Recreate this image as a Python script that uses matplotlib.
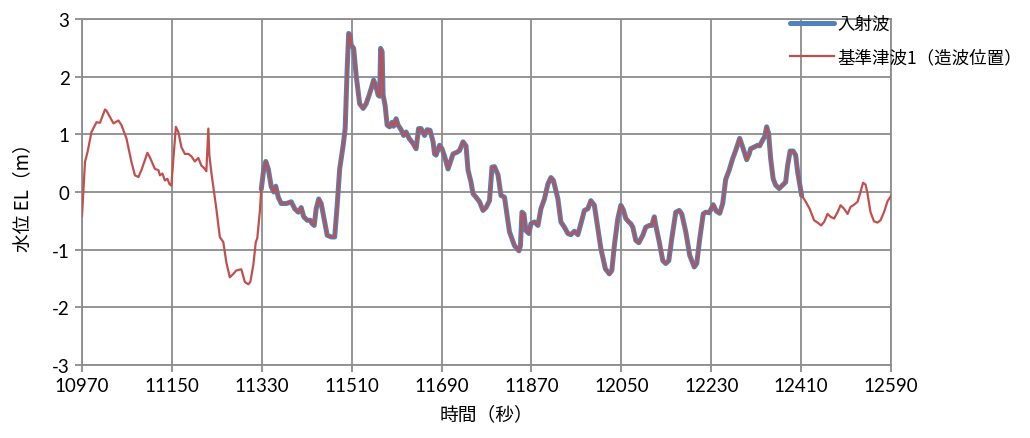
import matplotlib
matplotlib.use("Agg")
import matplotlib.pyplot as plt
import numpy as np

plt.rcParams['font.family'] = ['Lato', 'Noto Sans CJK JP', 'DejaVu Sans']
plt.rcParams['axes.unicode_minus'] = False

# ---- data ----
time_s = [10970, 10976, 10981, 10989, 10999, 11006, 11016, 11019, 11033, 11043,
          11049, 11059, 11069, 11076, 11083, 11089, 11101, 11106, 11116, 11123,
          11126, 11131, 11136, 11141, 11145, 11149, 11153, 11158, 11163, 11169,
          11176, 11183, 11189, 11196, 11203, 11209, 11214, 11219, 11223, 11225,
          11229, 11239, 11246, 11253, 11259, 11266, 11273, 11279, 11289, 11296,
          11303, 11307, 11313, 11318, 11321, 11326, 11329, 11334, 11338, 11343,
          11349, 11354, 11358, 11363, 11369, 11379, 11389, 11396, 11403, 11409,
          11414, 11421, 11427, 11431, 11435, 11439, 11444, 11449, 11456, 11461,
          11469, 11476, 11481, 11486, 11493, 11497, 11501, 11504, 11507, 11509,
          11514, 11519, 11526, 11533, 11539, 11545, 11549, 11554, 11558, 11563,
          11566, 11568, 11571, 11573, 11577, 11581, 11586, 11591, 11594, 11599,
          11603, 11609, 11614, 11619, 11625, 11633, 11639, 11644, 11649, 11656,
          11661, 11667, 11673, 11676, 11679, 11686, 11691, 11696, 11703, 11708,
          11713, 11721, 11726, 11733, 11739, 11743, 11749, 11753, 11759, 11766,
          11773, 11779, 11786, 11791, 11796, 11803, 11809, 11816, 11826, 11836,
          11845, 11848, 11851, 11855, 11859, 11865, 11869, 11876, 11883, 11889,
          11896, 11903, 11909, 11914, 11923, 11929, 11936, 11943, 11949, 11956,
          11963, 11969, 11976, 11983, 11989, 11996, 12003, 12009, 12018, 12026,
          12031, 12036, 12043, 12049, 12054, 12059, 12065, 12069, 12073, 12079,
          12085, 12093, 12099, 12106, 12111, 12116, 12119, 12126, 12133, 12139,
          12145, 12151, 12159, 12166, 12171, 12179, 12187, 12196, 12201, 12207,
          12214, 12219, 12226, 12234, 12240, 12247, 12253, 12259, 12266, 12273,
          12279, 12287, 12293, 12301, 12306, 12309, 12316, 12323, 12327, 12333,
          12337, 12341, 12345, 12349, 12354, 12359, 12366, 12373, 12379, 12383,
          12388, 12394, 12399, 12403, 12408, 12411, 12418, 12427, 12436, 12443,
          12450, 12456, 12463, 12469, 12476, 12483, 12489, 12496, 12503, 12509,
          12516, 12523, 12528, 12534, 12539, 12543, 12549, 12556, 12563, 12569,
          12576, 12583, 12590]

water_level = [-0.41, 0.52, 0.69, 1.04, 1.21, 1.20, 1.43, 1.41, 1.19, 1.24,
               1.16, 0.93, 0.52, 0.29, 0.26, 0.38, 0.68, 0.60, 0.40, 0.38,
               0.29, 0.32, 0.20, 0.23, 0.14, 0.11, 0.58, 1.13, 1.04, 0.78,
               0.66, 0.66, 0.62, 0.53, 0.59, 0.46, 0.42, 0.36, 1.10, 0.64,
               0.34, -0.29, -0.78, -0.87, -1.22, -1.48, -1.42, -1.36, -1.34, -1.56,
               -1.60, -1.56, -1.27, -0.87, -0.80, -0.35, 0.05, 0.40, 0.53, 0.40,
               0.09, 0.00, 0.10, -0.09, -0.20, -0.20, -0.17, -0.29, -0.35, -0.27,
               -0.43, -0.49, -0.49, -0.55, -0.58, -0.29, -0.12, -0.20, -0.52, -0.75,
               -0.78, -0.78, -0.23, 0.40, 0.81, 1.10, 2.14, 2.75, 2.72, 2.55,
               2.49, 2.02, 1.53, 1.45, 1.53, 1.68, 1.79, 1.94, 1.85, 1.68,
               1.66, 2.49, 2.43, 1.68, 1.50, 1.16, 1.13, 1.21, 1.14, 1.27,
               1.16, 1.08, 0.98, 1.04, 0.93, 0.84, 0.75, 1.10, 1.10, 0.98,
               1.08, 1.07, 0.87, 0.66, 0.64, 0.81, 0.75, 0.62, 0.40, 0.53,
               0.66, 0.69, 0.72, 0.87, 0.80, 0.38, 0.17, -0.03, -0.09, -0.17,
               -0.32, -0.27, -0.15, 0.43, 0.44, 0.30, -0.06, -0.09, -0.69, -0.93,
               -1.02, -0.93, -0.35, -0.38, -0.67, -0.72, -0.55, -0.52, -0.58, -0.29,
               -0.12, 0.14, 0.25, 0.20, -0.12, -0.52, -0.61, -0.72, -0.74, -0.68,
               -0.74, -0.55, -0.32, -0.29, -0.15, -0.23, -0.64, -0.98, -1.33, -1.42,
               -1.36, -0.93, -0.46, -0.23, -0.31, -0.46, -0.52, -0.55, -0.61, -0.84,
               -0.88, -0.75, -0.61, -0.58, -0.58, -0.43, -0.58, -0.87, -1.19, -1.24,
               -1.19, -0.81, -0.35, -0.32, -0.38, -0.69, -1.10, -1.30, -1.24, -0.81,
               -0.38, -0.35, -0.36, -0.22, -0.33, -0.37, -0.20, 0.22, 0.38, 0.58,
               0.72, 0.93, 0.78, 0.56, 0.66, 0.75, 0.78, 0.81, 0.80, 0.90,
               0.96, 1.13, 1.01, 0.58, 0.23, 0.12, 0.06, 0.12, 0.17, 0.46,
               0.71, 0.71, 0.64, 0.35, 0.09, -0.06, -0.15, -0.29, -0.49, -0.53,
               -0.58, -0.52, -0.38, -0.43, -0.46, -0.35, -0.23, -0.29, -0.38, -0.26,
               -0.22, -0.17, -0.03, 0.16, 0.13, -0.03, -0.35, -0.51, -0.53, -0.49,
               -0.35, -0.16, -0.07]

# incident wave (入射波) covers only part of the record
incident_start = 11329
incident_end = 12411

x_ticks = [10970, 11150, 11330, 11510, 11690, 11870, 12050, 12230, 12410, 12590]
y_ticks = [-3, -2, -1, 0, 1, 2, 3]

series_labels = ['入射波', '基準津波1（造波位置）']
x_label = '時間（秒）'
y_label = '水位 EL（m）'

# ---- figure ----
fig = plt.figure(figsize=(10.30, 4.39), dpi=100)
ax = fig.add_axes([82 / 1030, 73 / 439, 809 / 1030, 346 / 439])

t = np.array(time_s)
v = np.array(water_level)
mask = (t >= incident_start) & (t <= incident_end)

grid_c = '#8c8c8c'
ax.plot(t[mask], v[mask], color='#4F81BD', lw=3.6, solid_capstyle='round',
        solid_joinstyle='round', label=series_labels[0], zorder=3)
ax.plot(t, v, color='#C0504D', lw=1.6, solid_joinstyle='round',
        label=series_labels[1], zorder=4)

ax.set_xlim(x_ticks[0], x_ticks[-1])
ax.set_ylim(y_ticks[0], y_ticks[-1])
ax.set_xticks(x_ticks)
ax.set_yticks(y_ticks)
ax.set_yticklabels([str(y) for y in y_ticks])
ax.set_xticklabels([str(x) for x in x_ticks])
ax.grid(True, color=grid_c, lw=1.3)
ax.set_axisbelow(True)
for s in ax.spines.values():
    s.set_color(grid_c)
    s.set_linewidth(1.3)
ax.tick_params(axis='both', colors=grid_c, length=5, width=1.3,
               labelcolor='black', labelsize=13.5, pad=4)

ax.set_xlabel(x_label, fontsize=13.5, labelpad=6,
              family=['Noto Sans CJK JP', 'DejaVu Sans'])
ax.set_ylabel(y_label, fontsize=13.5, labelpad=13,
              family=['Noto Sans CJK JP', 'DejaVu Sans'])

leg = ax.legend(loc='upper left', bbox_to_anchor=(783 / 1030, 1 - 9 / 439),
                bbox_transform=fig.transFigure, frameon=False,
                prop={'family': ['Noto Sans CJK JP', 'DejaVu Sans'], 'size': 12.6},
                handlelength=2.5, handletextpad=0.2, labelspacing=0.85,
                borderaxespad=0)

fig.savefig('out.png', dpi=100)
